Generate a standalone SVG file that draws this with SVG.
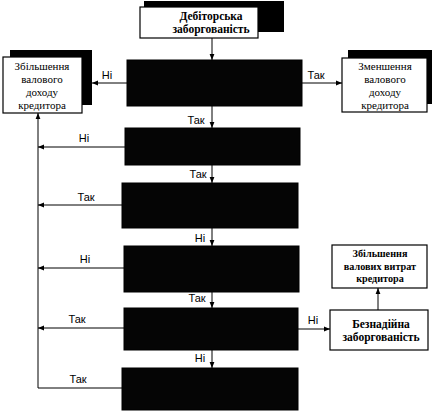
<svg xmlns="http://www.w3.org/2000/svg" width="433" height="414" viewBox="0 0 433 414">
<style>
.box{fill:#fff;stroke:#000;stroke-width:1.2}
.shadow{fill:#000}
.dark{fill:#050505;stroke:#000;stroke-width:1}
.t{font-family:"Liberation Serif","Times New Roman",serif;font-size:11px;fill:#000;text-anchor:middle}
.tb{font-family:"Liberation Serif","Times New Roman",serif;font-size:11.5px;font-weight:bold;fill:#000;text-anchor:middle}
.ts{font-family:"Liberation Serif","Times New Roman",serif;font-size:10.2px;font-weight:bold;fill:#000;text-anchor:middle}
.lbl{font-family:"Liberation Sans",Arial,sans-serif;font-size:11px;fill:#000;text-anchor:middle}
.ln{fill:none;stroke:#000;stroke-width:1}
</style>
<defs>
<marker id="ah" viewBox="0 0 10 10" refX="10" refY="5" markerWidth="6" markerHeight="6" orient="auto" markerUnits="userSpaceOnUse">
<path d="M0,1 L10,5 L0,9 z" fill="#000"/>
</marker>
</defs>
<rect width="433" height="414" fill="#fff"/>

<g id="n-debt">
<rect class="shadow" x="144" y="1" width="140" height="31"/>
<rect class="box" x="140" y="7" width="118" height="31"/>
<text class="tb" x="211" y="20">Дебіторська</text>
<text class="tb" x="211" y="33">заборгованість</text>
</g>

<g id="n-inc">
<rect class="shadow" x="10" y="50" width="82" height="55"/>
<rect class="box" x="3" y="57" width="79" height="56"/>
<text class="t" x="42" y="70">Збільшення</text>
<text class="t" x="42" y="83">валового</text>
<text class="t" x="42" y="96">доходу</text>
<text class="t" x="42" y="109">кредитора</text>
</g>

<g id="n-dec">
<rect class="shadow" x="348" y="50" width="84" height="54"/>
<rect class="box" x="342" y="58" width="85" height="54"/>
<text class="t" x="385" y="70">Зменшення</text>
<text class="t" x="385" y="83">валового</text>
<text class="t" x="385" y="96">доходу</text>
<text class="t" x="385" y="109">кредитора</text>
</g>

<g id="n-d1"><rect class="dark" x="127" y="60" width="175" height="46"/></g>
<g id="n-d2"><rect class="dark" x="125" y="128" width="175" height="37"/></g>
<g id="n-d3"><rect class="dark" x="122" y="183" width="176" height="45"/></g>
<g id="n-d4"><rect class="dark" x="124" y="246" width="175" height="46"/></g>
<g id="n-d5"><rect class="dark" x="124" y="308" width="174" height="42"/></g>
<g id="n-d6"><rect class="dark" x="122" y="368" width="176" height="42"/></g>

<g id="n-exp">
<rect class="box" x="332" y="245" width="95" height="43"/>
<text class="ts" x="380" y="257">Збільшення</text>
<text class="ts" x="380" y="269.5">валових витрат</text>
<text class="ts" x="380" y="282">кредитора</text>
</g>

<g id="n-bad">
<rect class="box" x="330" y="310" width="98" height="40"/>
<text class="tb" x="381" y="328">Безнадійна</text>
<text class="tb" x="381" y="341">заборгованість</text>
</g>

<g id="connectors">
<line class="ln" x1="212" y1="38" x2="212" y2="60" marker-end="url(#ah)"/>
<line class="ln" x1="127" y1="83" x2="92" y2="83" marker-end="url(#ah)"/>
<line class="ln" x1="302" y1="83" x2="342" y2="83" marker-end="url(#ah)"/>
<line class="ln" x1="212" y1="106" x2="212" y2="128" marker-end="url(#ah)"/>
<line class="ln" x1="212" y1="165" x2="212" y2="183" marker-end="url(#ah)"/>
<line class="ln" x1="212" y1="228" x2="212" y2="246" marker-end="url(#ah)"/>
<line class="ln" x1="212" y1="292" x2="212" y2="308" marker-end="url(#ah)"/>
<line class="ln" x1="212" y1="350" x2="212" y2="368" marker-end="url(#ah)"/>
<line class="ln" x1="38" y1="388" x2="38" y2="113" marker-end="url(#ah)"/>
<line class="ln" x1="125" y1="147" x2="38" y2="147" marker-end="url(#ah)"/>
<line class="ln" x1="122" y1="205" x2="38" y2="205" marker-end="url(#ah)"/>
<line class="ln" x1="124" y1="268" x2="38" y2="268" marker-end="url(#ah)"/>
<line class="ln" x1="124" y1="328" x2="38" y2="328" marker-end="url(#ah)"/>
<line class="ln" x1="122" y1="388" x2="38" y2="388"/>
<line class="ln" x1="298" y1="329" x2="330" y2="329" marker-end="url(#ah)"/>
<line class="ln" x1="378" y1="310" x2="378" y2="288" marker-end="url(#ah)"/>
<text class="lbl" x="107" y="79">Ні</text>
<text class="lbl" x="316" y="79">Так</text>
<text class="lbl" x="196" y="124">Так</text>
<text class="lbl" x="84" y="142">Ні</text>
<text class="lbl" x="198" y="178">Так</text>
<text class="lbl" x="86" y="201">Так</text>
<text class="lbl" x="200" y="242">Ні</text>
<text class="lbl" x="85" y="263">Ні</text>
<text class="lbl" x="197" y="302">Так</text>
<text class="lbl" x="77" y="323">Так</text>
<text class="lbl" x="200" y="362">Ні</text>
<text class="lbl" x="313" y="324">Ні</text>
<text class="lbl" x="78" y="383">Так</text>
</g>
</svg>
